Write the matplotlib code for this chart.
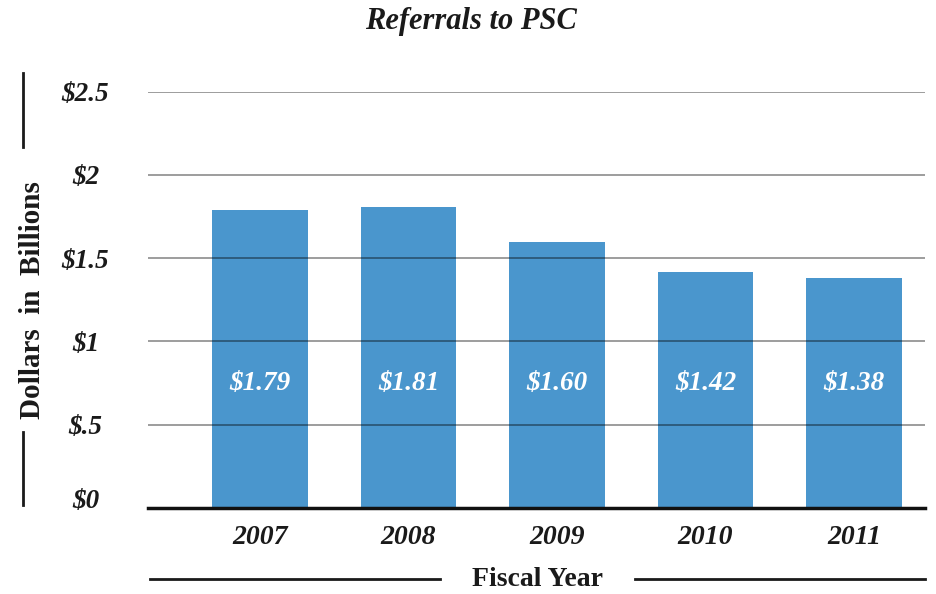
import matplotlib
matplotlib.use("Agg")
import matplotlib.pyplot as plt
from matplotlib.lines import Line2D
from matplotlib.transforms import ScaledTranslation

years = ["2007", "2008", "2009", "2010", "2011"]
values = [1.79, 1.81, 1.60, 1.42, 1.38]
value_labels = ["$1.79", "$1.81", "$1.60", "$1.42", "$1.38"]
y_ticks = [0, 0.5, 1, 1.5, 2, 2.5]
y_tick_labels = ["$0", "$.5", "$1", "$1.5", "$2", "$2.5"]

plt.rcParams['font.family'] = ['Liberation Serif', 'DejaVu Serif']

fig = plt.figure(figsize=(9.36, 5.94), dpi=100)
ax = fig.add_axes([148/936, 1-508/594, (925-148)/936, (508-91.7)/594])

bar_color = "#4A96CD"
x = list(range(len(years)))
ax.bar(x, values, width=0.646, color=bar_color, zorder=2)

ax.set_xlim(-0.754, 4.478)
ax.set_ylim(0, 2.5)
ax.set_yticks(y_ticks)
ax.set_yticklabels(y_tick_labels, fontsize=19.5, fontweight='bold', fontstyle='italic', color='#1a1a1a')
for lab in ax.get_yticklabels():
    lab.set_ha('center')
ax.tick_params(axis='y', length=0, pad=45)
ax.set_xticks(x)
ax.set_xticklabels(years, fontsize=20, fontweight='bold', fontstyle='italic', color='#1a1a1a')
ax.tick_params(axis='x', length=0, pad=12)

ax.yaxis.grid(True, color='black', alpha=0.45, linewidth=1.2, zorder=3)
ax.set_axisbelow(False)
for s in ['top', 'left', 'right']:
    ax.spines[s].set_visible(False)
ax.spines['bottom'].set_linewidth(2.5)
ax.spines['bottom'].set_color('#111111')
ax.spines['bottom'].set_zorder(4)

# lift the $0 label slightly above the baseline as in the reference
zero_lab = ax.get_yticklabels()[0]
zero_lab.set_transform(zero_lab.get_transform() + ScaledTranslation(0, 10/100, fig.dpi_scale_trans))

for xi, lab in zip(x, value_labels):
    ax.text(xi, 0.75, lab, ha='center', va='center', color='white',
            fontsize=19.5, fontweight='bold', fontstyle='italic', zorder=5)

fig.text(471/936, 1-22/594, "Referrals to PSC", ha='center', va='center',
         fontsize=22, fontweight='bold', fontstyle='italic', color='#1a1a1a')

fig.text(33/936, 1-300/594, "Dollars  in  Billions", rotation=90, ha='center', va='center',
         fontsize=21, fontweight='bold', color='#1a1a1a')
fig.text(538/936, 1-580/594, "Fiscal Year", ha='center', va='center',
         fontsize=20, fontweight='bold', color='#1a1a1a')

lc = '#1a1a1a'
fig.add_artist(Line2D([23/936, 23/936], [1-73/594, 1-147/594], color=lc, linewidth=2))
fig.add_artist(Line2D([23/936, 23/936], [1-432/594, 1-505/594], color=lc, linewidth=2))
fig.add_artist(Line2D([150/936, 440/936], [1-579/594, 1-579/594], color=lc, linewidth=2))
fig.add_artist(Line2D([635/936, 925/936], [1-579/594, 1-579/594], color=lc, linewidth=2))

fig.savefig("out.png", dpi=100)
